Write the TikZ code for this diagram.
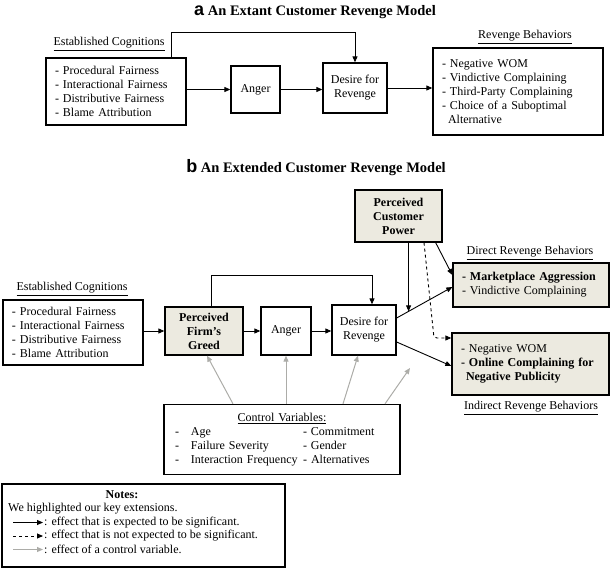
\documentclass[tikz,border=0pt]{standalone}
\usepackage{fontspec}
\setmainfont{Liberation Serif}
\setsansfont{Liberation Sans}
\usepackage{tikz}
\usetikzlibrary{arrows.meta,calc,positioning}
\definecolor{hilite}{RGB}{236,234,224}
\definecolor{ctrlgray}{RGB}{172,172,168}
\newcommand{\cvrow}[2]{\makebox[16pt][l]{-}\makebox[112pt][l]{#1}- #2}

\begin{document}
\begin{tikzpicture}[x=1pt, y=-1pt,
  font=\fontsize{12}{14}\selectfont,
  box/.style={draw, line width=1.3pt, inner sep=0pt, align=center},
  hbox/.style={box, fill=hilite, font=\fontsize{12}{14}\selectfont\bfseries},
  lst/.style={box, align=left, inner xsep=9pt},
  lbl/.style={inner sep=0pt},
  ttl/.style={inner sep=0pt, font=\fontsize{14.5}{16}\selectfont\bfseries},
  arr/.style={-{Triangle[length=6pt,width=5pt]}, line width=0.9pt},
  dsh/.style={arr, dashed},
  ctrlarr/.style={arr, draw=ctrlgray, line width=1pt}
]
\useasboundingbox (0,0) rectangle (610,569);

% (a) extant model
\node[ttl] (ttlA) at (315,12) {\textsf{\fontsize{18}{18}\selectfont a} An Extant Customer Revenge Model};
\node[lbl] (ecA) at (109,44) {\underline{Established Cognitions}};
\node[lst, text width=122pt, minimum height=67pt] (cogA) at (116,91.5)
  {- Procedural Fairness\\- Interactional Fairness\\- Distributive Fairness\\- Blame Attribution};
\node[box, minimum width=49pt, minimum height=47pt] (angA) at (255.5,89.5) {Anger};
\node[box, minimum width=64pt, minimum height=50pt] (desA) at (355,88) {Desire for\\Revenge};
\node[lbl] (rbA) at (525,37) {\underline{Revenge Behaviors}};
\node[lst, text width=152pt, minimum height=87pt] (behA) at (518,91.5)
  {- Negative WOM\\- Vindictive Complaining\\- Third-Party Complaining\\- Choice of a Suboptimal\\\hspace*{6pt}Alternative};

\draw[arr] (cogA.east |- angA) -- (angA.west);
\draw[arr] (angA.east) -- (angA.east -| desA.west);
\draw[arr] (desA.east) -- (desA.east -| behA.west);
\draw[arr] ([xshift=55pt]cogA.north) -- ++(0,-25) -| (desA.north);

% (b) extended model
\node[ttl] (ttlB) at (316,168) {\textsf{\fontsize{18}{18}\selectfont b} An Extended Customer Revenge Model};
\node[hbox, minimum width=87pt, minimum height=52pt] (pow) at (398.5,216) {Perceived\\Customer\\Power};
\node[lbl] (ecB) at (72,289) {\underline{Established Cognitions}};
\node[lst, text width=122pt, minimum height=65pt] (cogB) at (73,332.5)
  {- Procedural Fairness\\- Interactional Fairness\\- Distributive Fairness\\- Blame Attribution};
\node[hbox, minimum width=78pt, minimum height=48pt] (grd) at (204,331) {Perceived\\Firm's\\Greed};
\node[box, minimum width=50pt, minimum height=48pt] (angB) at (286,331) {Anger};
\node[box, minimum width=64pt, minimum height=50pt] (desB) at (364,330) {Desire for\\Revenge};
\node[lbl] (drB) at (530,253) {\underline{Direct Revenge Behaviors}};
\node[lst, fill=hilite, text width=138pt, minimum height=44pt] (dir) at (531,285)
  {\textbf{- Marketplace Aggression}\\- Vindictive Complaining};
\node[lst, fill=hilite, text width=139pt, minimum height=62pt] (ind) at (530.5,364)
  {- Negative WOM\\\textbf{- Online Complaining for}\\\textbf{\hspace*{5pt}Negative Publicity}};
\node[lbl] (irB) at (531,408) {\underline{Indirect Revenge Behaviors}};
\node[lst, inner xsep=11pt, text width=214pt, minimum height=70pt] (ctrl) at (282,439.5)
  {\makebox[214pt]{\underline{Control Variables:}}\\
   \cvrow{Age}{Commitment}\\
   \cvrow{Failure Severity}{Gender}\\
   \cvrow{Interaction Frequency}{Alternatives}};

\draw[arr] (cogB.east |- grd) -- (grd.west);
\draw[arr] (grd) -- (angB);
\draw[arr] (angB.east) -- (angB.east -| desB.west);
\draw[arr] ([xshift=7pt]grd.north) -- ++(0,-31) -| ([xshift=8pt]desB.north);

\coordinate (dOut) at ([yshift=12pt]desB.east);
\coordinate (dIn) at ([yshift=-2pt]dir.west);
\coordinate (pMeet) at ($(dOut)!0.214!(dIn)$);
\draw[arr] (dOut) -- (dIn);
\draw[arr] (pMeet |- pow.south) -- (pMeet);
\draw[arr] ([xshift=-7pt]pow.south east) -- ([yshift=10pt]dir.west);
\coordinate (dBend) at (434,338);
\draw[dsh, rounded corners=3pt] ([xshift=25.5pt]pow.south) -- (dBend) -- ([yshift=26pt]ind.west);
\draw[arr] ([yshift=-12pt]desB.east) -- ([yshift=-2pt]ind.west);

% control variables
\coordinate (ctrlEnd) at (410,368);
\draw[ctrlarr] ([xshift=-49pt]ctrl.north) -- ([xshift=3pt]grd.south);
\draw[ctrlarr] (angB.south |- ctrl.north) -- (angB.south);
\draw[ctrlarr] ([xshift=61pt]ctrl.north) -- ([xshift=-6pt]desB.south);
\draw[ctrlarr] ([xshift=103pt]ctrl.north) -- (ctrlEnd);

% notes
\node[box, minimum width=283pt, minimum height=83pt] (nts) at (143.5,525.5) {};
\node[lbl, font=\fontsize{12}{14}\selectfont\bfseries] (ntsH) at (122,495) {Notes:};
\node[lbl, anchor=west] (ntsA) at (8,509) {We highlighted our key extensions.};
\node[lbl, anchor=west] (ntsB) at (44,522.5) {: effect that is expected to be significant.};
\node[lbl, anchor=west] (ntsC) at (44,536) {: effect that is not expected to be significant.};
\node[lbl, anchor=west] (ntsD) at (44,549.5) {: effect of a control variable.};
\draw[arr] ([xshift=-31pt]ntsB.west) -- ([xshift=-1pt]ntsB.west);
\draw[dsh] ([xshift=-31pt]ntsC.west) -- ([xshift=-1pt]ntsC.west);
\draw[ctrlarr] ([xshift=-31pt]ntsD.west) -- ([xshift=-1pt]ntsD.west);
\end{tikzpicture}
\end{document}
